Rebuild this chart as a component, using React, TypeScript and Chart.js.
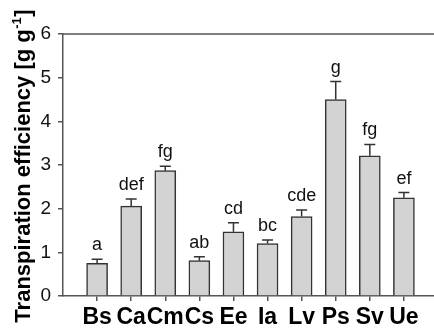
import React, { useEffect, useRef } from "react";
import { Chart, registerables } from "chart.js";

Chart.register(...registerables);

// Species codes along the x axis
const species = ["Bs", "Ca", "Cm", "Cs", "Ee", "Ia", "Lv", "Ps", "Sv", "Ue"];
// Mean transpiration efficiency (g g-1)
const means = [0.75, 2.06, 2.87, 0.81, 1.47, 1.2, 1.82, 4.5, 3.21, 2.25];
// Standard error (upper whisker only)
const errors = [0.09, 0.16, 0.1, 0.09, 0.21, 0.08, 0.15, 0.41, 0.26, 0.12];
// Significance group letters
const groups = ["a", "def", "fg", "ab", "cd", "bc", "cde", "g", "fg", "ef"];
// Y axis ticks
const yTicks = [0, 1, 2, 3, 4, 5, 6];

const FONT = "'Liberation Sans', Arial, Helvetica, sans-serif";
const AXIS_COLOR = "#555555";

const errorBarPlugin = {
  id: "errorBars",
  afterDatasetsDraw(chart: any) {
    const { ctx, scales } = chart;
    const meta = chart.getDatasetMeta(0);
    ctx.save();
    meta.data.forEach((bar: any, i: number) => {
      const top = scales.y.getPixelForValue(means[i]);
      const tip = scales.y.getPixelForValue(means[i] + errors[i]);
      const x = bar.x;
      ctx.strokeStyle = "#333333";
      ctx.lineWidth = 1.5;
      ctx.beginPath();
      ctx.moveTo(x, top);
      ctx.lineTo(x, tip);
      ctx.moveTo(x - 5.5, tip);
      ctx.lineTo(x + 5.5, tip);
      ctx.stroke();
      ctx.fillStyle = "#111111";
      ctx.font = `18px ${FONT}`;
      ctx.textAlign = "center";
      ctx.textBaseline = "alphabetic";
      ctx.fillText(groups[i], x, tip - 9);
    });
    ctx.restore();
  },
};

const framePlugin = {
  id: "frame",
  afterDraw(chart: any) {
    const { ctx, chartArea } = chart;
    ctx.save();
    ctx.strokeStyle = AXIS_COLOR;
    ctx.lineWidth = 1.5;
    ctx.beginPath();
    ctx.moveTo(chartArea.left, chartArea.top);
    ctx.lineTo(chartArea.right, chartArea.top);
    ctx.stroke();

    // Rotated y-axis title with a superscript exponent
    const main = "Transpiration efficiency [g g";
    const sup = "-1";
    const end = "]";
    const mainFont = `bold 22px ${FONT}`;
    const supFont = `bold 13px ${FONT}`;
    ctx.font = mainFont;
    const wMain = ctx.measureText(main).width;
    const wEnd = ctx.measureText(end).width;
    ctx.font = supFont;
    const wSup = ctx.measureText(sup).width;
    const total = wMain + wSup + 1 + wEnd;
    ctx.translate(30, 166);
    ctx.rotate(-Math.PI / 2);
    ctx.fillStyle = "#000000";
    ctx.textAlign = "left";
    ctx.textBaseline = "alphabetic";
    let pos = -total / 2;
    ctx.font = mainFont;
    ctx.fillText(main, pos, 0);
    pos += wMain;
    ctx.font = supFont;
    ctx.fillText(sup, pos + 0.5, -9);
    pos += wSup + 1;
    ctx.font = mainFont;
    ctx.fillText(end, pos, 0);
    ctx.restore();
  },
};

export default function App() {
  const canvasRef = useRef<HTMLCanvasElement | null>(null);

  useEffect(() => {
    document.body.style.margin = "0";
    const canvas = canvasRef.current;
    if (!canvas) return;
    const chart = new Chart(canvas, {
      type: "bar",
      data: {
        datasets: [
          {
            data: species.map((_, i) => ({ x: i + 1, y: means[i] })),
            backgroundColor: "#d3d3d3",
            borderColor: "#333333",
            borderWidth: 1.5,
            barThickness: 21,
          },
        ],
      },
      options: {
        responsive: false,
        animation: false,
        devicePixelRatio: 1,
        layout: { padding: { top: 34, right: 2, left: 0, bottom: 0 } },
        plugins: {
          legend: { display: false },
          tooltip: { enabled: false },
        },
        scales: {
          x: {
            type: "linear",
            min: 0,
            max: 11,
            offset: false,
            grid: {
              display: true,
              offset: false,
              drawOnChartArea: false,
              drawTicks: true,
              tickLength: 5,
              color: AXIS_COLOR,
              lineWidth: 1.5,
            },
            border: { display: true, color: AXIS_COLOR, width: 1.5 },
            afterBuildTicks: (scale: any) => {
              scale.ticks = species.map((_, i) => ({ value: i + 1 }));
            },
            afterFit: (scale: any) => {
              scale.height = 35;
            },
            ticks: {
              autoSkip: false,
              maxRotation: 0,
              minRotation: 0,
              padding: 3,
              color: "#000000",
              font: { family: FONT, size: 23, weight: "bold" },
              callback: (v: any) => species[Number(v) - 1] ?? "",
            },
          },
          y: {
            type: "linear",
            min: 0,
            max: 6,
            grid: {
              display: true,
              drawOnChartArea: false,
              drawTicks: true,
              tickLength: 5,
              color: AXIS_COLOR,
              lineWidth: 1.5,
            },
            border: { display: true, color: AXIS_COLOR, width: 1.5 },
            afterBuildTicks: (scale: any) => {
              scale.ticks = yTicks.map((v) => ({ value: v }));
            },
            afterFit: (scale: any) => {
              scale.width = 63;
            },
            ticks: {
              padding: 7,
              color: "#111111",
              font: { family: FONT, size: 19 },
            },
          },
        },
      },
      plugins: [errorBarPlugin, framePlugin],
    });
    return () => chart.destroy();
  }, []);

  return (
    <div style={{ width: 434, height: 331, overflow: "hidden", background: "#ffffff" }}>
      <canvas ref={canvasRef} width={440} height={331} style={{ display: "block" }} />
    </div>
  );
}
